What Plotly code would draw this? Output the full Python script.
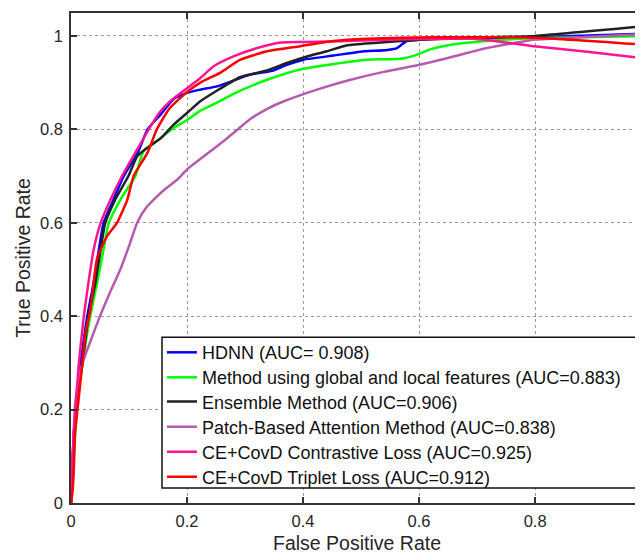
import plotly.graph_objects as go

names = [
    "HDNN (AUC= 0.908)",
    "Method using global and local features (AUC=0.883)",
    "Ensemble Method (AUC=0.906)",
    "Patch-Based Attention Method (AUC=0.838)",
    "CE+CovD Contrastive Loss (AUC=0.925)",
    "CE+CovD Triplet Loss (AUC=0.912)",
]
colors = ["#0000FF", "#00FF00", "#222222", "#B65AAE", "#FF1493", "#FF0000"]

hdnn_x = [0, 0.005, 0.010, 0.016, 0.028, 0.039, 0.048, 0.056, 0.073, 0.091, 0.115, 0.132, 0.154, 0.177, 0.2, 0.223, 0.252, 0.309, 0.349, 0.372, 0.401, 0.453, 0.499, 0.545, 0.562, 0.579, 0.625, 0.8, 1.0]
hdnn_y = [0, 0.15, 0.22, 0.292, 0.399, 0.471, 0.542, 0.599, 0.649, 0.70, 0.75, 0.80, 0.831, 0.865, 0.878, 0.885, 0.892, 0.917, 0.926, 0.938, 0.949, 0.958, 0.966, 0.970, 0.974, 0.989, 0.994, 0.997, 1.005]

glob_x = [0, 0.005, 0.010, 0.019, 0.033, 0.045, 0.056, 0.065, 0.085, 0.111, 0.125, 0.154, 0.177, 0.2, 0.223, 0.25, 0.280, 0.338, 0.395, 0.453, 0.510, 0.568, 0.597, 0.619, 0.660, 0.717, 0.775, 0.832, 1.0]
glob_y = [0, 0.10, 0.20, 0.292, 0.399, 0.471, 0.542, 0.599, 0.649, 0.70, 0.753, 0.781, 0.803, 0.820, 0.840, 0.856, 0.876, 0.906, 0.928, 0.940, 0.949, 0.951, 0.960, 0.971, 0.982, 0.989, 0.994, 0.996, 1.0]

ens_x = [0, 0.005, 0.010, 0.019, 0.030, 0.042, 0.051, 0.059, 0.076, 0.099, 0.114, 0.131, 0.154, 0.177, 0.2, 0.223, 0.252, 0.292, 0.338, 0.372, 0.407, 0.441, 0.476, 0.522, 0.568, 0.602, 0.717, 0.8, 1.0]
ens_y = [0, 0.15, 0.22, 0.292, 0.399, 0.471, 0.542, 0.599, 0.649, 0.70, 0.742, 0.760, 0.780, 0.81, 0.835, 0.860, 0.883, 0.912, 0.926, 0.942, 0.956, 0.967, 0.980, 0.985, 0.989, 0.992, 0.997, 1.0, 1.022]

patch_x = [0, 0.003, 0.007, 0.015, 0.028, 0.050, 0.067, 0.085, 0.100, 0.114, 0.130, 0.148, 0.165, 0.183, 0.2, 0.25, 0.28, 0.309, 0.34, 0.367, 0.424, 0.482, 0.539, 0.597, 0.648, 0.717, 0.775, 0.799, 0.861, 1.0]
patch_y = [0, 0.10, 0.21, 0.28, 0.328, 0.40, 0.45, 0.50, 0.55, 0.60, 0.633, 0.656, 0.675, 0.692, 0.714, 0.762, 0.792, 0.822, 0.845, 0.860, 0.885, 0.906, 0.923, 0.937, 0.952, 0.974, 0.987, 0.992, 0.996, 1.005]

contr_x = [0, 0.005, 0.013, 0.022, 0.030, 0.039, 0.051, 0.068, 0.088, 0.111, 0.134, 0.152, 0.171, 0.2, 0.223, 0.246, 0.280, 0.321, 0.361, 0.45, 0.55, 0.694, 0.798, 0.890, 1.0]
contr_y = [0, 0.15, 0.292, 0.399, 0.471, 0.542, 0.599, 0.649, 0.70, 0.75, 0.80, 0.835, 0.860, 0.888, 0.910, 0.935, 0.956, 0.974, 0.986, 0.988, 0.992, 0.994, 0.978, 0.966, 0.950]

trip_x = [0, 0.003, 0.005, 0.007, 0.013, 0.019, 0.025, 0.033, 0.039, 0.045, 0.062, 0.079, 0.097, 0.108, 0.132, 0.148, 0.17, 0.2, 0.223, 0.257, 0.292, 0.338, 0.395, 0.452, 0.510, 0.568, 0.625, 0.8, 1.0]
trip_y = [0, 0.028, 0.078, 0.15, 0.221, 0.292, 0.364, 0.41, 0.471, 0.524, 0.571, 0.599, 0.649, 0.70, 0.75, 0.80, 0.845, 0.88, 0.90, 0.921, 0.949, 0.967, 0.978, 0.989, 0.994, 0.996, 0.997, 0.996, 0.98]

series = [(hdnn_x, hdnn_y), (glob_x, glob_y), (ens_x, ens_y), (patch_x, patch_y), (contr_x, contr_y), (trip_x, trip_y)]

xticks = [0, 0.2, 0.4, 0.6, 0.8]
yticks = [0, 0.2, 0.4, 0.6, 0.8, 1]
xtick_labels = ["0", "0.2", "0.4", "0.6", "0.8"]
ytick_labels = ["0", "0.2", "0.4", "0.6", "0.8", "1"]

font_family = "Liberation Sans, Arial, sans-serif"

# legend layout (paper coords): one native legend per entry, stacked inside one framed box
legend_rows_y = [0.3069, 0.2559, 0.2063, 0.1552, 0.1041, 0.0531]
legend_left = 0.159
legend_box = dict(x0=0.1591, x1=0.9878, y0=0.0306, y1=0.3384)

fig = go.Figure()
legend_ids = ["legend"] + [f"legend{i}" for i in range(2, len(names) + 1)]
for i, ((xs, ys), nm, c) in enumerate(zip(series, names, colors)):
    fig.add_trace(go.Scatter(x=xs, y=ys, mode="lines", name=nm,
                             line=dict(color=c, width=2.5, shape="spline", smoothing=0.5),
                             legend=legend_ids[i]))

legend_cfg = {}
for i, lid in enumerate(legend_ids):
    legend_cfg[lid] = dict(x=legend_left, y=legend_rows_y[i], xanchor="left", yanchor="middle",
                           bgcolor="rgba(0,0,0,0)", borderwidth=0,
                           font=dict(size=18, color="#111111", family=font_family))

fig.add_shape(type="rect", xref="paper", yref="paper", layer="above",
              line=dict(color="#111111", width=1.5), fillcolor="white", **legend_box)

# page body has an 8px margin, so the figure is sized/offset to compensate
fig.update_layout(
    width=635, height=550,
    margin=dict(l=63, r=0, t=5, b=55),
    plot_bgcolor="white", paper_bgcolor="white",
    font=dict(family=font_family, size=16.5, color="#262626"),
    showlegend=True,
    xaxis=dict(range=[0, 0.986], tickvals=xticks, ticktext=xtick_labels,
               showgrid=True, gridcolor="#999999", griddash="dot", gridwidth=1,
               showline=True, linecolor="#333333", linewidth=1.5, mirror="ticks",
               ticks="inside", ticklen=6, tickcolor="#333333", tickwidth=1.5,
               zeroline=False, ticklabelstandoff=2,
               title=dict(text="False Positive Rate", font=dict(size=19.5), standoff=8)),
    yaxis=dict(range=[0, 1.049], tickvals=yticks, ticktext=ytick_labels,
               showgrid=True, gridcolor="#999999", griddash="dot", gridwidth=1,
               showline=True, linecolor="#333333", linewidth=1.5, mirror=False,
               ticks="inside", ticklen=6, tickcolor="#333333", tickwidth=1.5,
               zeroline=False, ticklabelstandoff=3,
               title=dict(text="True Positive Rate", font=dict(size=19.5), standoff=4)),
    **legend_cfg,
)
fig.write_html("out.html")
